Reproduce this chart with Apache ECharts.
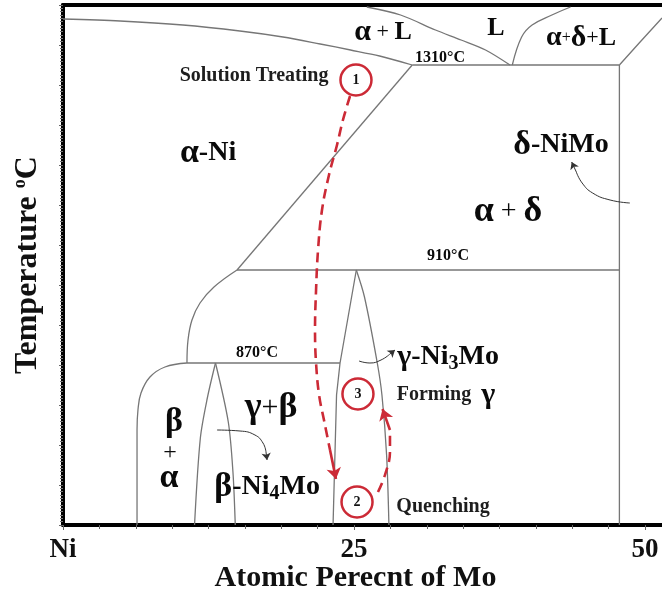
<!DOCTYPE html>
<html><head><meta charset="utf-8">
<script src="https://cdn.jsdelivr.net/npm/echarts@6/dist/echarts.min.js"></script>
<style>html,body{margin:0;padding:0;background:#fff}#c{width:662px;height:590px}</style>
</head><body><div id="c"></div>
<script>
// ---- axis ticks ----
const xTicks = [0, 25, 50];
const xTickLabels = ['Ni', '25', '50'];

// ---- phase boundaries: [at.% Mo, relative temperature] ----
const liquidusAlpha = [[0,506],[4.9,504],[10.3,500],[15.2,494],[18.9,488],[22.1,481],[24.7,475],[27.2,469],[30.0,460]];
const liquidusL = [[26.1,518],[29.0,510],[32.0,495],[34.2,485],[36.3,475],[38.4,460]];
const liquidusDelta = [[38.6,460],[39.4,488],[40.3,500],[42.0,510],[43.6,518]];
const deltaRightEdge = [[47.8,460],[49.5,482],[51.46,507]];
const line1310 = [[30.0,460],[47.8,460]];
const deltaBoundary = [[47.8,460],[47.8,0]];
const alphaSolvus = [[30.0,460],[14.95,255]];
const line910 = [[14.95,255],[47.8,255]];
const alphaGamma = [[14.95,255],[12.97,238],[11.77,222],[11.08,205],[10.74,185],[10.65,162]];
const line870 = [[10.65,162],[23.8,162]];
const alphaBeta = [[10.65,162],[8.76,158],[7.47,148],[6.70,132],[6.44,115],[6.36,95],[6.36,0]];
const betaLeft = [[13.1,162],[12.4,127],[11.8,87],[11.3,0]];
const betaRight = [[13.1,162],[14.2,103],[14.6,53],[14.8,0]];
const gammaLeft = [[25.2,255],[23.8,162],[23.5,130],[23.2,0]];
const gammaRight = [[25.2,255],[25.9,228],[27.0,162],[27.4,130],[27.8,70],[28.0,0]];

// ---- heat-treatment route ----
const path12 = [[24.66,429],[24.05,405],[23.54,380],[22.85,350],[22.25,315],[21.91,275],[21.74,235],[21.65,195],[21.74,162],[22.0,130],[22.42,105],[22.94,75],[23.45,46]];
const path23 = [[27.06,33],[27.66,50],[28.09,73],[28.09,95],[27.45,116]];
const stepPoints = [[25.17,445],[25.26,23],[25.34,131]];
const stepNames = ['1', '2', '3'];

// ---- pointer arrows ----
const pointerDelta = [[48.7,322],[47.0,325],[45.5,332],[44.6,342],[44.1,353],[43.7,363]];
const pointerBeta = [[13.23,95],[15.21,94],[16.49,90],[17.18,82],[17.44,73],[17.53,65]];
const pointerGamma = [[25.43,164],[26.37,162],[27.32,165],[28.09,171],[28.52,175]];

// ---- labels ----
const labelTexts = [
  '{B30|α}{N22| + }{B26|L}',
  '{B26|L}',
  '{B28|α}{N16|+}{B30|δ}{N22|+}{B26|L}',
  '{B16|1310°C}',
  '{D20|Solution Treating}',
  '{B34|α}{B28|-Ni}',
  '{B34|δ}{B28|-NiMo}',
  '{B36|α}{N28| + }{B36|δ}',
  '{B16|910°C}',
  '{B16|870°C}',
  '{B30|γ}{B28|-Ni}{SUB|3}{B28|Mo}',
  '{D20|Forming}{D20|  }{B30|γ}',
  '{B36|γ}{N30|+}{B36|β}',
  '{B34|β}',
  '{N24|+}',
  '{B34|α}',
  '{B34|β}{B28|-Ni}{SUB|4}{B28|Mo}',
  '{D20|Quenching}'
];
const labelAt = [
  [27.49,493],[37.2,497],[44.5,487],[32.39,467],[16.41,449],[12.46,372],[42.78,380],
  [38.23,313],[33.08,269],[16.67,172],[33.08,168],[32.9,130],[17.87,117],
  [9.54,103],[9.19,72],[9.11,47],[17.53,38],[32.65,18]
];

const serif = '"Liberation Serif","DejaVu Serif",serif';
const rich = {};
for (let s = 12; s <= 40; s++) {
  rich['B' + s] = {fontFamily: serif, fontWeight: 'bold', fontSize: s, color: '#0a0a0a', textBorderWidth: 0};
  rich['N' + s] = {fontFamily: serif, fontWeight: 'normal', fontSize: s, color: '#0a0a0a', textBorderWidth: 0};
  rich['D' + s] = {fontFamily: serif, fontWeight: 'bold', fontSize: s, color: '#1e1e1e', textBorderWidth: 0};
}
rich.SUB = {fontFamily: serif, fontWeight: 'bold', fontSize: 20, color: '#0a0a0a', padding: [14, 0, 0, 0]};
rich.TN = {fontFamily: serif, fontWeight: 'bold', fontSize: 32, color: '#111'};
rich.TS = {fontFamily: serif, fontWeight: 'bold', fontSize: 18, color: '#111', padding: [0, 0, 15, 0]};

const gray = '#767676';
const red = '#cc2a36';

const boundaries = [
  [liquidusAlpha, 0.3], [liquidusL, 0.3], [liquidusDelta, 0.4], [deltaRightEdge, 0],
  [line1310, 0], [deltaBoundary, 0], [alphaSolvus, 0], [line910, 0],
  [alphaGamma, 0.4], [line870, 0], [alphaBeta, 0.4], [betaLeft, 0.3], [betaRight, 0.3],
  [gammaLeft, 0], [gammaRight, 0.3]
];

const series = boundaries.map(([d, sm]) => ({
  type: 'line', data: d, smooth: sm, symbol: 'none', silent: true, z: 2,
  lineStyle: {color: gray, width: 1.3}
}));

[path12, path23].forEach(p => {
  series.push({type: 'line', data: p.slice(0, -1), smooth: 0.4, symbol: 'none', silent: true, z: 4,
    lineStyle: {color: red, width: 2.6, type: [10, 6]}});
  series.push({type: 'lines', coordinateSystem: 'cartesian2d', silent: true, z: 4,
    symbol: ['none', 'arrow'], symbolSize: 11,
    lineStyle: {color: red, width: 2.6, curveness: 0, opacity: 1},
    data: [{coords: p.slice(-2)}]});
});

[pointerDelta, pointerBeta, pointerGamma].forEach(p => {
  series.push({type: 'line', data: p.slice(0, -1), smooth: 0.5, symbol: 'none', silent: true, z: 3,
    lineStyle: {color: '#333', width: 1}});
  series.push({type: 'lines', coordinateSystem: 'cartesian2d', silent: true, z: 3,
    symbol: ['none', 'arrow'], symbolSize: 7,
    lineStyle: {color: '#333', width: 1, curveness: 0, opacity: 1},
    data: [{coords: p.slice(-2)}]});
});

series.push({
  type: 'scatter', silent: true, z: 5, symbol: 'circle', symbolSize: 31,
  itemStyle: {color: 'rgba(255,255,255,0)', borderColor: red, borderWidth: 2.5, opacity: 1},
  label: {show: true, position: 'inside', formatter: p => p.name,
    fontFamily: serif, fontWeight: 'bold', fontSize: 14, color: '#111', textBorderWidth: 0},
  data: stepPoints.map((v, i) => ({value: v, name: stepNames[i]}))
});

series.push({
  type: 'scatter', silent: true, z: 6, symbolSize: 0,
  itemStyle: {opacity: 1},
  label: {show: true, position: 'inside', rich: rich, color: '#000', textBorderWidth: 0, opacity: 1},
  data: labelAt.map((v, i) => ({value: v, label: {formatter: labelTexts[i]}}))
});

const chart = echarts.init(document.getElementById('c'));
chart.setOption({
  animation: false,
  backgroundColor: '#fff',
  grid: {left: 63, right: 0, top: 5, bottom: 65, containLabel: false, outerBoundsMode: 'none'},
  xAxis: [{
    type: 'value', min: 0, max: 51.46, interval: 25,
    axisLine: {onZero: false, lineStyle: {color: '#000', width: 4}},
    axisTick: {show: true, length: 5, lineStyle: {color: '#666', width: 1}},
    minorTick: {show: true, splitNumber: 8, length: 4, lineStyle: {color: '#666', width: 1}},
    splitLine: {show: false},
    axisLabel: {margin: 12, fontFamily: serif, fontWeight: 'bold', fontSize: 27, color: '#111',
      formatter: v => { const i = xTicks.indexOf(v); return i >= 0 ? xTickLabels[i] : ''; }},
    name: 'Atomic Perecnt of Mo', nameLocation: 'middle', nameGap: 38, nameMoveOverlap: false,
    nameTextStyle: {fontFamily: serif, fontWeight: 'bold', fontSize: 30, color: '#111', padding: [0, 14, 0, 0]}
  }, {
    type: 'value', position: 'top', min: 0, max: 51.46,
    axisLine: {show: true, onZero: false, lineStyle: {color: '#000', width: 4}},
    axisTick: {show: false}, axisLabel: {show: false}, splitLine: {show: false}
  }],
  yAxis: {
    type: 'value', min: 0, max: 520, interval: 40,
    axisLine: {show: true, lineStyle: {color: '#000', width: 4}},
    axisTick: {show: true, length: 4, lineStyle: {color: '#666', width: 1}},
    minorTick: {show: true, splitNumber: 12, length: 3, lineStyle: {color: '#777', width: 1}},
    axisLabel: {show: false}, splitLine: {show: false},
    name: '{TN|Temperature }{TS|o}{TN|C}', nameLocation: 'middle', nameGap: 19, nameMoveOverlap: false,
    nameTextStyle: {fontFamily: serif, fontWeight: 'bold', fontSize: 32, color: '#111', rich: rich}
  },
  series: series
});
</script></body></html>
